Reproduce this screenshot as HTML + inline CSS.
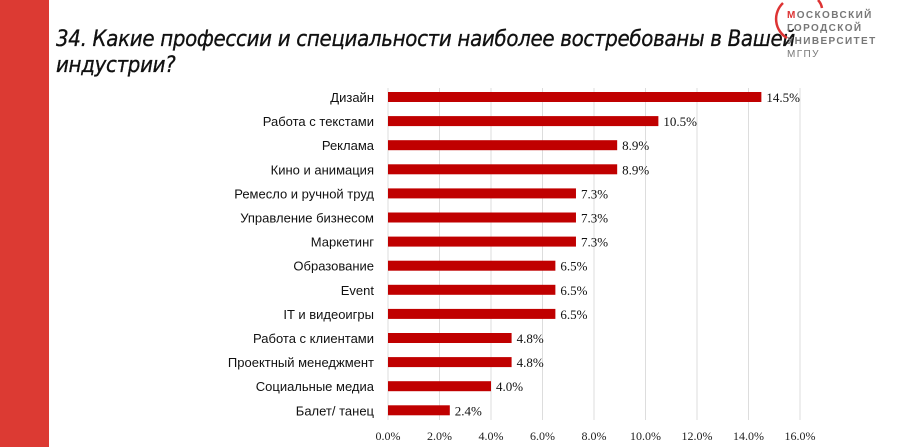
<!DOCTYPE html><html><head><meta charset="utf-8"><style>
body{margin:0;width:900px;height:447px;background:#fff;position:relative;overflow:hidden;font-family:"Liberation Sans",sans-serif}
.side{position:absolute;left:0;top:0;width:49px;height:447px;background:#dc3a33}
.t{position:absolute;left:56px;top:27px;font-size:22px;font-style:italic;line-height:26px;color:#111;font-family:"DejaVu Sans Condensed","Liberation Sans",sans-serif;letter-spacing:-0.3px;-webkit-text-stroke:0.3px #111}
.logo{position:absolute;left:787px;top:9px;font-size:10px;letter-spacing:1.4px;line-height:13px;color:#777;font-weight:bold}
</style></head><body>
<div class="side"></div>
<div class="t">34. Какие профессии и специальности наиболее востребованы в Вашей<br>индустрии?</div>
<svg style="position:absolute;left:0;top:0" width="900" height="447">
<path d="M783 3 A22 22 0 0 0 787 38" stroke="#d33" stroke-width="2.5" fill="none"/>
<path d="M818 0 A16 16 0 0 1 822 8" stroke="#d33" stroke-width="2.5" fill="none"/>
<g stroke="#ddd" stroke-width="1">
<line x1="388" y1="88" x2="388" y2="420"/><line x1="439.5" y1="88" x2="439.5" y2="420"/><line x1="491" y1="88" x2="491" y2="420"/><line x1="542.5" y1="88" x2="542.5" y2="420"/><line x1="594" y1="88" x2="594" y2="420"/><line x1="645.5" y1="88" x2="645.5" y2="420"/><line x1="697" y1="88" x2="697" y2="420"/><line x1="748.5" y1="88" x2="748.5" y2="420"/><line x1="800" y1="88" x2="800" y2="420"/>
</g>
<g font-family="Liberation Serif,serif" font-size="12" fill="#222" text-anchor="middle">
<text x="388" y="440">0.0%</text><text x="439.5" y="440">2.0%</text><text x="491" y="440">4.0%</text><text x="542.5" y="440">6.0%</text><text x="594" y="440">8.0%</text><text x="645.5" y="440">10.0%</text><text x="697" y="440">12.0%</text><text x="748.5" y="440">14.0%</text><text x="800" y="440">16.0%</text>
</g>
<g id="bars" font-size="13" fill="#111"></g>
</svg>
<div class="logo"><span style="color:#d33">М</span>ОСКОВСКИЙ<br>ГОРОДСКОЙ<br>УНИВЕРСИТЕТ<br><span style="font-weight:normal">МГПУ</span></div>
<script>
var d=[["Дизайн",14.5],["Работа с текстами",10.5],["Реклама",8.9],["Кино и анимация",8.9],["Ремесло и ручной труд",7.3],["Управление бизнесом",7.3],["Маркетинг",7.3],["Образование",6.5],["Event",6.5],["IT и видеоигры",6.5],["Работа с клиентами",4.8],["Проектный менеджмент",4.8],["Социальные медиа",4.0],["Балет/ танец",2.4]];
var s="";d.forEach(function(r,i){var y=97+i*24.1,w=r[1]*25.75;
s+='<rect x="388" y="'+(y-5)+'" width="'+w+'" height="10" fill="#c00000"/>';
s+='<text x="374" y="'+(y+5)+'" text-anchor="end" font-family="Liberation Sans,sans-serif">'+r[0]+'</text>';
s+='<text x="'+(393+w)+'" y="'+(y+5)+'" font-family="Liberation Serif,serif" font-size="13">'+r[1].toFixed(1)+'%</text>';});
document.getElementById("bars").innerHTML=s;
</script>
</body></html>
